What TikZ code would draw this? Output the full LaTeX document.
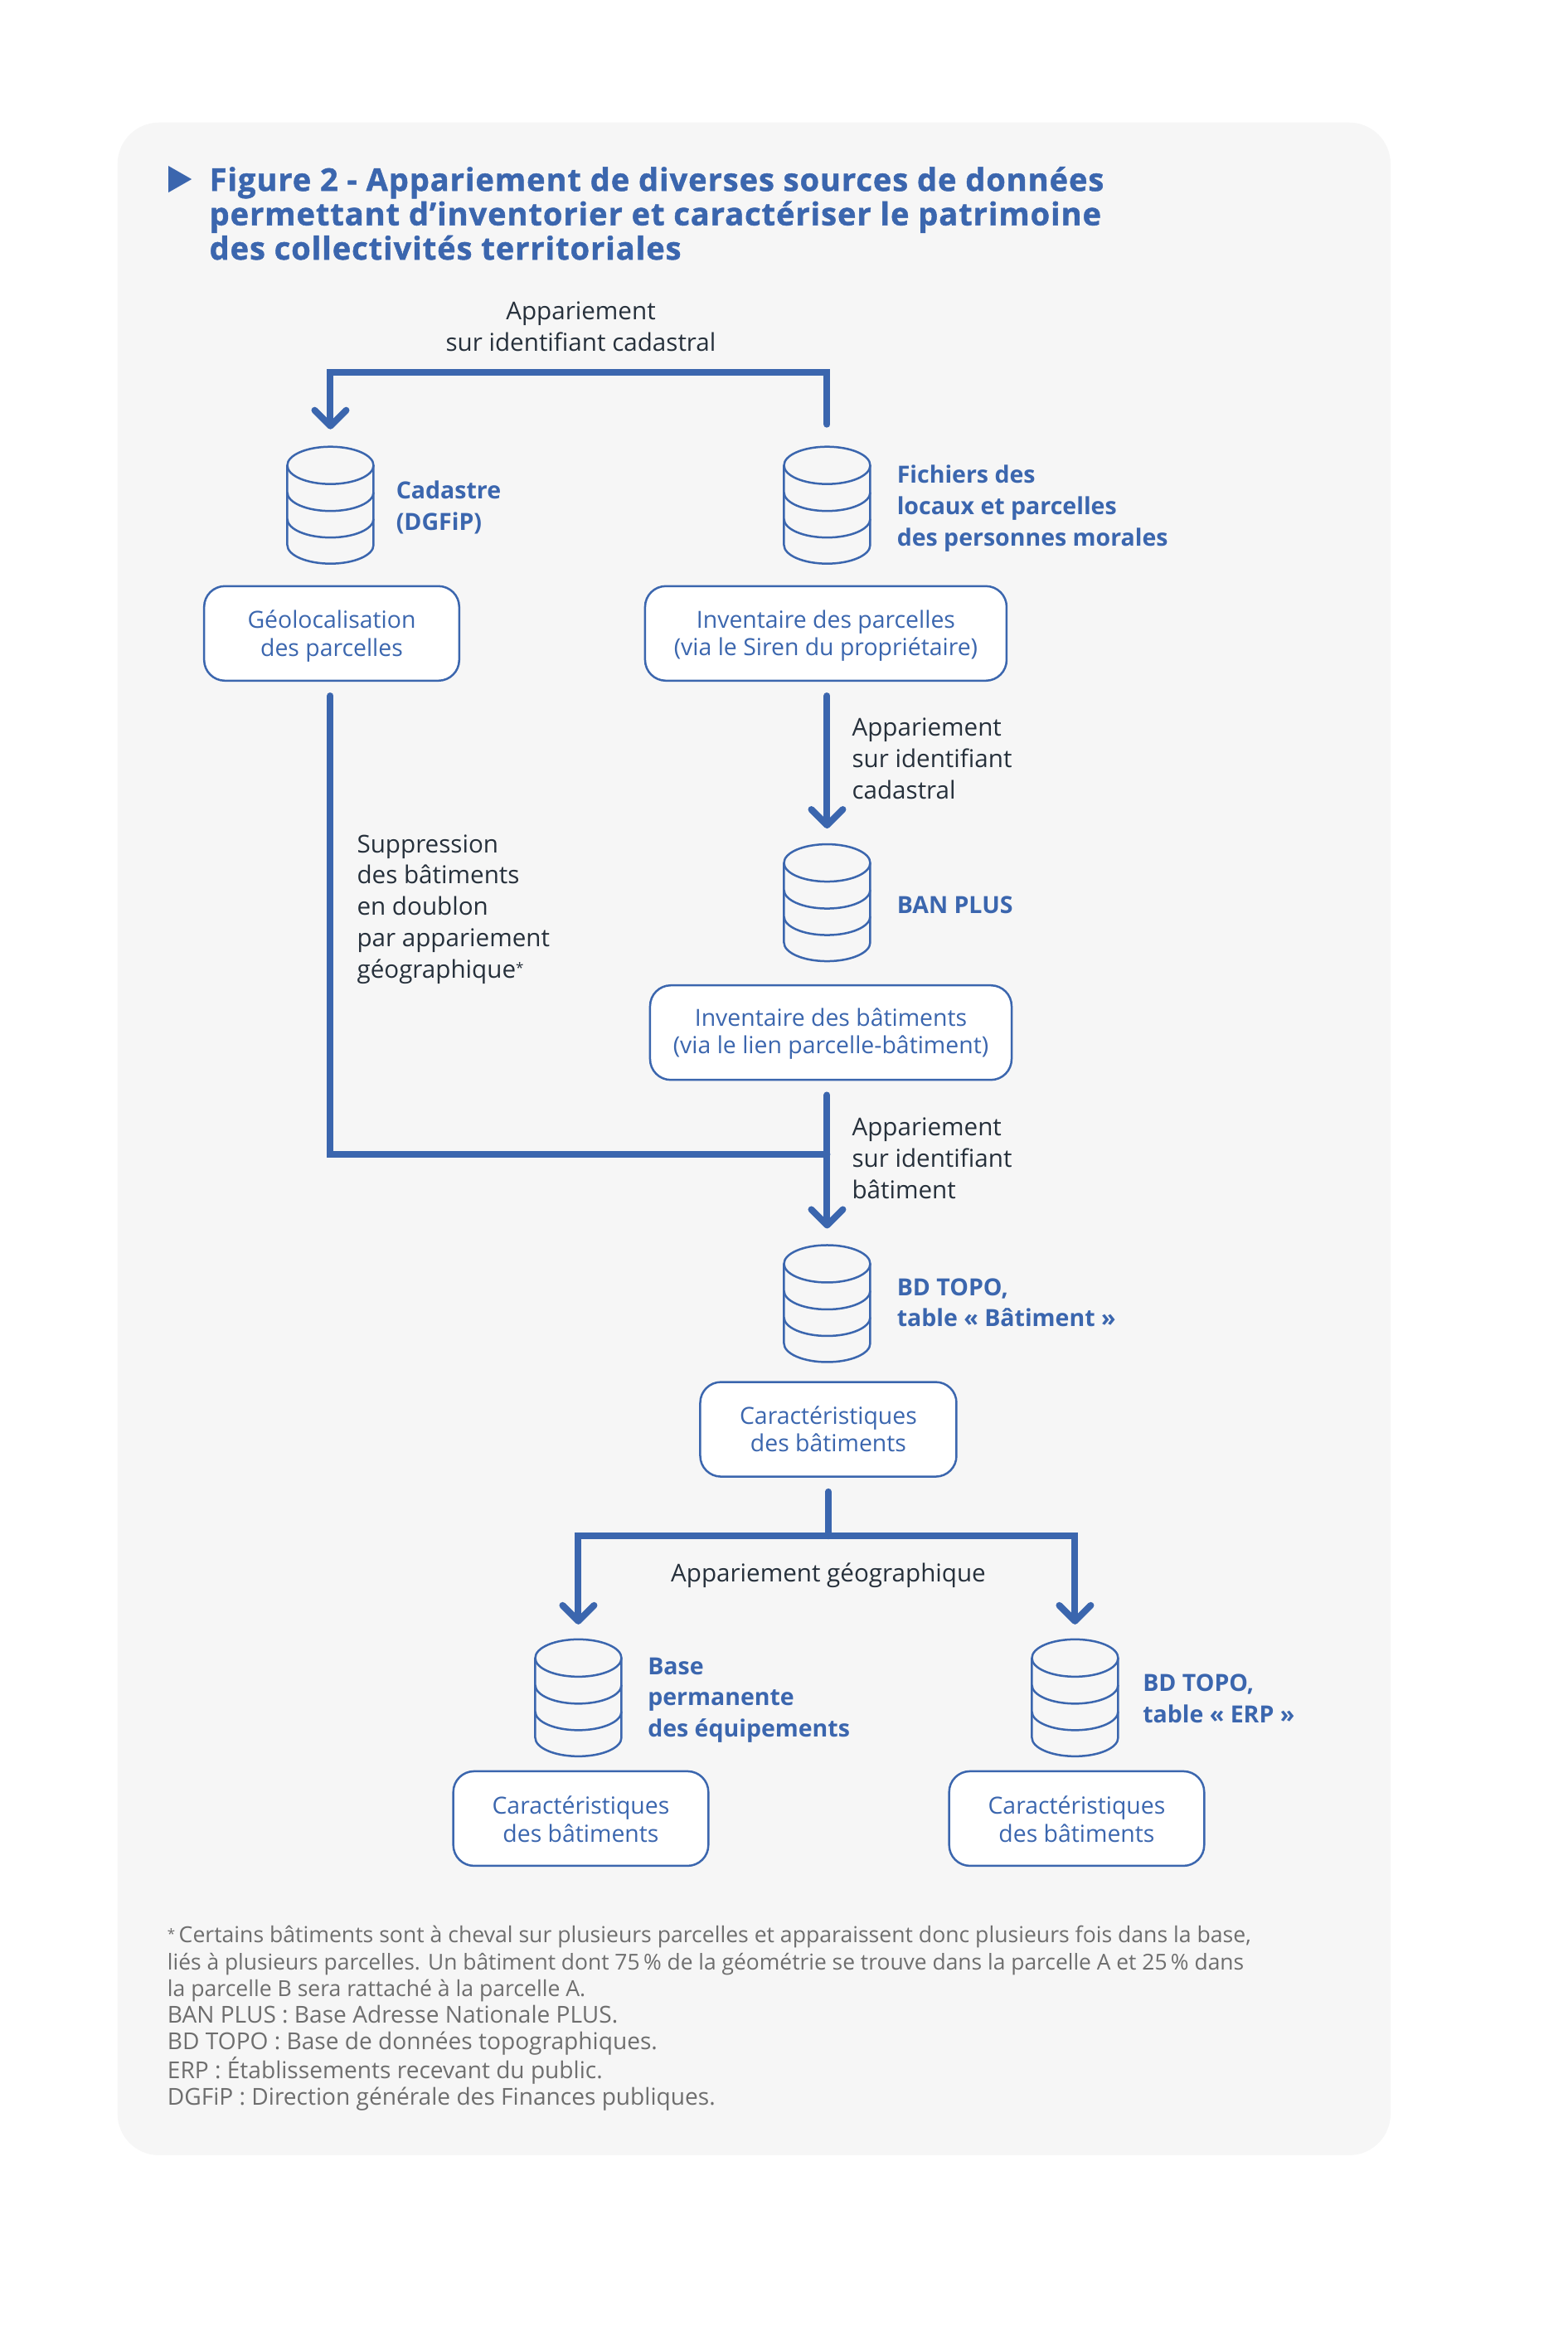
\documentclass[tikz,border=0pt]{standalone}
\usepackage{fontspec}
\setmainfont{Open Sans}
\newfontfamily\titlefont{Open Sans}[BoldFeatures={FakeBold=1.2,LetterSpace=2.5}]
\usetikzlibrary{arrows.meta,calc}
\definecolor{bleu}{HTML}{3B66AE}
\definecolor{panneau}{HTML}{F6F6F6}
\definecolor{encre}{HTML}{26303B}
\definecolor{gris}{HTML}{6E6E6E}
\tikzset{
  flow/.style={draw=bleu,line width=4pt,line cap=round,line join=miter},
  flowarrow/.style={flow,-{Straight Barb[length=9.5pt,width=19pt,round]}},
  infobox/.style={draw=bleu,fill=white,line width=1.25pt,rounded corners=12.5pt,inner sep=0pt,minimum height=57pt},
  boxtext/.style={inner sep=0pt,text=bleu,align=center,yshift=-1.6pt,font=\fontsize{14.2}{16.6}\selectfont},
  dbline/.style={draw=bleu,line width=1.25pt},
  dbbox/.style={minimum width=52pt,minimum height=70.5pt,inner sep=0pt,outer sep=0pt,anchor=north},
  sourcelabel/.style={anchor=west,align=left,inner sep=0pt,text=bleu,font=\fontsize{14.25}{18.9}\selectfont\bfseries},
  linklabel/.style={anchor=west,align=left,inner sep=0pt,text=encre,font=\fontsize{14.8}{18.9}\selectfont},
}
\newcommand{\dbcyl}[3]{%
  \node[dbbox] (#1) at (#2,#3) {};
  \draw[dbline] ([yshift=-11.25pt]#1.north) ellipse [x radius=26pt,y radius=11.25pt];
  \draw[dbline] ([yshift=-11.25pt]#1.north west) -- ([yshift=-59.25pt]#1.north west)
     arc [start angle=180,end angle=360,x radius=26pt,y radius=11.25pt]
     -- ([yshift=-11.25pt]#1.north east);
  \draw[dbline] ([yshift=-27.5pt]#1.north west) arc [start angle=180,end angle=360,x radius=26pt,y radius=11.25pt];
  \draw[dbline] ([yshift=-43.5pt]#1.north west) arc [start angle=180,end angle=360,x radius=26pt,y radius=11.25pt];
}
\newcommand{\fnsmall}{\fontsize{13.3}{16.1}\selectfont}
\newcommand{\fnsmaller}{\fontsize{13.2}{16.1}\selectfont}
\newcommand{\fnlarge}{\fontsize{14.05}{16.1}\selectfont}
\begin{document}
\begin{tikzpicture}[x=0.5025pt,y=-0.5025pt]
\useasboundingbox (0,0) rectangle (1880.6,2820.9);
\fill[panneau,rounded corners=25pt] (141,147) rectangle (1668.7,2586);
\fill[bleu] (202,199) -- (230,215) -- (202,231) -- cycle;
\node[anchor=west,align=left,inner sep=0pt,text=bleu,font=\titlefont\fontsize{19}{20.7}\selectfont\bfseries] (titre) at (251,256)
  {Figure 2 - Appariement de diverses sources de données\\permettant d’inventorier et caractériser le patrimoine\\des collectivités territoriales};

% cylinders
\dbcyl{cad}{396.5}{536}
\dbcyl{fic}{992.5}{536}
\dbcyl{ban}{992.5}{1013}
\dbcyl{bdb}{992.5}{1494}
\dbcyl{bpe}{694}{1967}
\dbcyl{erp}{1290}{1967}

% boxes
\node[infobox,minimum width=153.8pt,label={[boxtext]center:Géolocalisation\\des parcelles}] (geo) at (398,760) {};
\node[infobox,minimum width=218pt,label={[boxtext]center:Inventaire des parcelles\\(via le Siren du propriétaire)}] (invp) at (991,760) {};
\node[infobox,minimum width=218pt,label={[boxtext,yshift=0.8pt]center:Inventaire des bâtiments\\(via le lien parcelle-bâtiment)}] (invb) at (997,1239) {};
\node[infobox,minimum width=154.5pt,label={[boxtext,yshift=1.8pt]center:Caractéristiques\\des bâtiments}] (car) at (994,1715) {};
\node[infobox,minimum width=153.8pt,label={[boxtext,yshift=1.2pt]center:Caractéristiques\\des bâtiments}] (carl) at (697,2182) {};
\node[infobox,minimum width=153.8pt,label={[boxtext,yshift=1.2pt]center:Caractéristiques\\des bâtiments}] (carr) at (1292,2182) {};

% source labels
\node[sourcelabel] (lcad) at (475,609) {Cadastre\\(DGFiP)};
\node[sourcelabel] (lfic) at (1076,610) {Fichiers des\\locaux et parcelles\\des personnes morales};
\node[sourcelabel] (lban) at (1076,1086) {BAN PLUS};
\node[sourcelabel] (lbdb) at (1076,1563) {BD TOPO,\\table « Bâtiment »};
\node[sourcelabel] (lbpe) at (777,2040) {Base\\permanente\\des équipements};
\node[sourcelabel] (lerp) at (1371,2038) {BD TOPO,\\table « ERP »};

% link labels
\node[linklabel,anchor=center,align=center] (l1) at (697,392) {Appariement\\sur identifiant cadastral};
\node[linklabel] (l2) at (1022,910) {Appariement\\sur identifiant\\cadastral};
\node[linklabel] (l3) at (428,1091) {Suppression\\des bâtiments\\en doublon\\par appariement\\géographique\raisebox{3pt}{\fontsize{8.5}{8.5}\selectfont *}};
\node[linklabel] (l4) at (1022,1390) {Appariement\\sur identifiant\\bâtiment};
\node[linklabel,anchor=center,align=center] (l5) at (994,1890) {Appariement géographique};

% footnote
\node[anchor=west,align=left,inner sep=0pt,text=gris,font=\fontsize{13.3}{16.1}\selectfont] (note) at (200.5,2422)
 {{\fnsmall\raisebox{2pt}{\fontsize{8.5}{8.5}\selectfont *}\,Certains bâtiments sont à cheval sur plusieurs parcelles et apparaissent donc plusieurs fois dans la base,}\\
 {\fnsmaller liés à plusieurs parcelles. Un bâtiment dont 75\,\% de la géométrie se trouve dans la parcelle A et 25\,\% dans}\\
 {\fnsmall la parcelle B sera rattaché à la parcelle A.}\\
 {\fnlarge BAN PLUS : Base Adresse Nationale PLUS.}\\
 {\fnlarge BD TOPO : Base de données topographiques.}\\
 {\fnlarge ERP : Établissements recevant du public.}\\
 {\fnlarge DGFiP : Direction générale des Finances publiques.}};

% connectors
\coordinate (jtop) at (396.5,447);
\coordinate (jb) at (992.5,1385);
\coordinate (jl) at (694,1843);
\coordinate (jr) at (1290,1843);
\coordinate (jc) at (994,1843);
\coordinate (jg) at (396.5,1385);

\draw[flowarrow,shorten <=13.5pt,shorten >=10.5pt] (fic.north) |- (jtop) -- (cad.north);
\draw[flowarrow,shorten <=8.5pt,shorten >=9.5pt] (fic.south |- invp.south) -- (ban.north);
\draw[flow,shorten <=8.5pt] (cad.south |- geo.south) -- (jg) -- (jb);
\draw[flowarrow,shorten <=8.5pt,shorten >=10pt] (ban.south |- invb.south) -- (bdb.north);
\draw[flow,shorten <=8.5pt] (car.south -| jc) -- (jc);
\draw[flowarrow,shorten >=9pt] (jc) -- (jl) -- (bpe.north);
\draw[flowarrow,shorten >=9pt] (jc) -- (jr) -- (erp.north);
\end{tikzpicture}
\end{document}
